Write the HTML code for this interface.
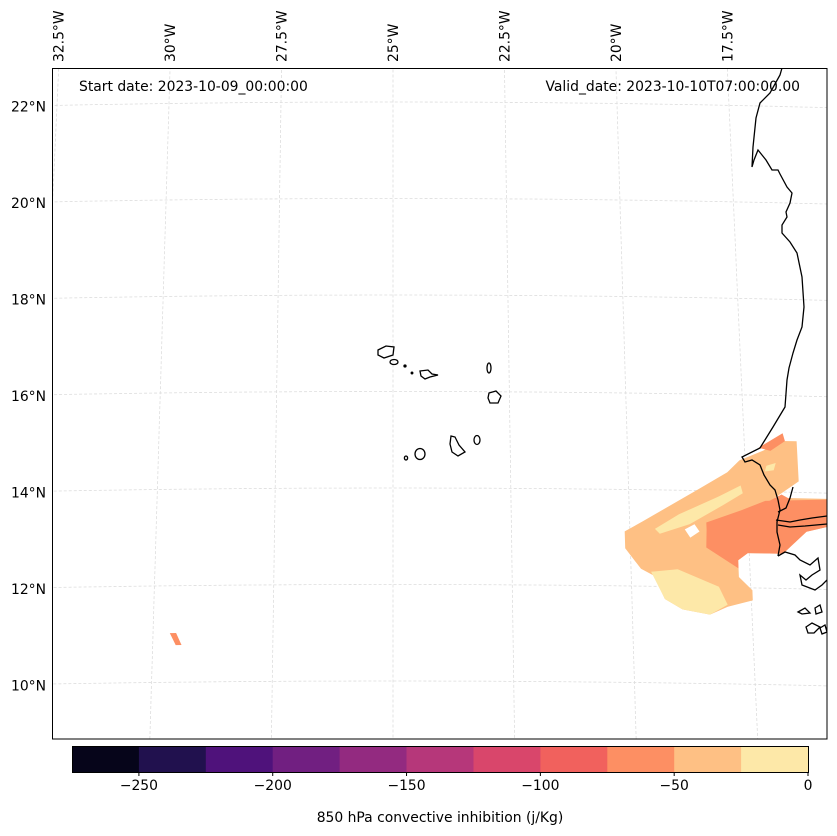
<!DOCTYPE html>
<html><head><meta charset="utf-8"><style>
html,body{margin:0;padding:0;background:#fff;}
svg{display:block;font-family:"DejaVu Sans","Liberation Sans",sans-serif;}
</style></head><body>
<svg id="chart" width="837" height="836" viewBox="0 0 837 836">
<defs><clipPath id="mapclip"><rect x="52" y="68" width="775" height="671"/></clipPath></defs>
<rect x="0" y="0" width="837" height="836" fill="#fff"/>
<g id="grid" clip-path="url(#mapclip)"></g>
<g id="fills" clip-path="url(#mapclip)"></g>
<g id="coast" clip-path="url(#mapclip)" fill="none" stroke="#000" stroke-width="1.3">
<path d="M782,68 L780,75 L770,93 L760,103 L756,118 L753,147 L752,167 L754,160 L758,150 L766,160 L772,170 L778,170 L780,174 L787,187 L792,193 L790,203 L786,212 L787,217 L782,225 L782,233 L790,242 L797,253 L802,277 L804,307 L802,327 L797,340 L793,353 L789,368 L787,380 L785,407 L773,427 L760,448 L742,457 L745,462 L752,460 L760,465 L764,475 L770,485 L775,490 L778,500 L780,510 L777,522 L777,532 L780,545 L778,556"/>
<path d="M778,512 L786,508 L790,498 L793,487 M776,520 L790,522 L800,520 L812,518 L827,516"/>
<path d="M778,525 L790,527 L805,526 L827,524"/>
<path d="M778,556 L785,552 L795,555 L800,560 L810,565 L818,558 L820,570 L812,575 L806,580 L800,575 L802,585 L815,590 L822,585 L827,580"/>
<path d="M798,612 L805,608 L810,613 L802,614 Z M815,608 L820,605 L822,612 L816,614 Z M806,627 L812,623 L820,627 L814,633 L808,633 Z M820,628 L825,625 L827,632 L822,634 Z"/>
<g>
<path d="M378,350 L386,346 L394,347 L393,355 L384,358 L378,355 Z"/>
<ellipse cx="394" cy="362" rx="4" ry="2.5"/>
<circle cx="405" cy="366" r="1" fill="#000"/>
<circle cx="412" cy="373" r="0.8" fill="#000"/>
<path d="M420,371 L428,370 L432,374 L438,375 L430,377 L425,379 L421,376 Z"/>
<ellipse cx="489" cy="368" rx="2" ry="5"/>
<path d="M489,393 L496,391 L501,396 L498,403 L490,403 L488,398 Z"/>
<ellipse cx="477" cy="440" rx="3" ry="4.5"/>
<path d="M451,436 L455,437 L459,445 L465,452 L458,456 L452,452 L450,444 Z"/>
<ellipse cx="420" cy="454" rx="5" ry="5.5"/>
<ellipse cx="406" cy="458" rx="1.6" ry="2"/>
</g>
</g>
<rect x="52.5" y="68.5" width="774.5" height="670.5" fill="none" stroke="#000" stroke-width="1"/>
<g id="labels" font-size="13.9" fill="#000"></g>
<text x="79" y="91" font-size="13.9">Start date: 2023-10-09_00:00:00</text>
<text x="800" y="91" font-size="13.9" text-anchor="end">Valid_date: 2023-10-10T07:00:00.00</text>
<g id="cbar"></g>
<text x="440" y="822" font-size="13.9" text-anchor="middle">850 hPa convective inhibition (j/Kg)</text>
</svg>
<script>
const levels=[-275,-250,-225,-200,-175,-150,-125,-100,-75,-50,-25,0];
const levelColors=["#06051a","#21114e","#4f127b","#711f81","#932a80","#b6377a","#d9466b","#f1615d","#fd8f63","#fec084","#fde8a8"];
const cbarTicks=[-250,-200,-150,-100,-50,0];
const latTicks=[10,12,14,16,18,20,22];
const lonTicks=[-32.5,-30,-27.5,-25,-22.5,-20,-17.5];
// contour polygons: [lon,lat] vertices, level = colour bin value
const contourLevels=[-37,-62,-12,-12,-12,-62,-62,-62];
const contourPolys=[
[[-20.11,13.13],[-19.73,13.34],[-18.53,14.02],[-17.89,14.39],[-17.62,14.64],[-17.11,14.85],[-16.69,15.06],[-16.38,15.06],[-16.38,14.23],[-16.90,13.88],[-15.4,13.88],[-15.4,13.40],[-16.27,13.19],[-16.79,12.72],[-17.53,12.72],[-17.74,12.57],[-17.74,12.22],[-17.47,11.95],[-17.47,11.74],[-18.00,11.60],[-18.38,11.43],[-18.95,11.53],[-19.31,11.74],[-19.52,12.22],[-19.79,12.36],[-20.11,12.78]],
[[-18.38,13.34],[-17.62,13.61],[-17.11,13.81],[-15.4,13.88],[-15.4,13.40],[-16.27,13.19],[-16.79,12.72],[-17.53,12.72],[-17.74,12.57],[-17.74,12.40],[-18.40,12.82],[-18.38,13.19]],
[[-19.47,13.19],[-18.95,13.50],[-18.10,13.88],[-17.62,14.12],[-17.58,13.96],[-18.00,13.71],[-18.73,13.30],[-19.37,13.09]],
[[-19.58,12.30],[-19.02,12.36],[-18.17,12.01],[-18.00,11.64],[-18.38,11.43],[-18.95,11.53],[-19.31,11.74]],
[[-17.05,14.54],[-16.85,14.60],[-16.90,14.45],[-17.09,14.42]],
[[-17.20,14.91],[-16.67,15.22],[-16.63,15.06],[-16.95,14.85]],
[[-29.65,11.02],[-29.52,11.02],[-29.40,10.77],[-29.52,10.77]],
[[-17.14,13.75],[-16.76,13.95],[-16.57,13.85],[-16.95,13.7]]
];
const holePoly=[[-18.84,13.19],[-18.63,13.30],[-18.53,13.15],[-18.73,13.02]];

const NS="http://www.w3.org/2000/svg";
function projX(lon,lat){return 393+(lon+25)*44.8*(1+(22-lat)*0.0065);}
function projY(lon,lat){const dx=(lon+25)/10;return 105+(22-lat)*48.25+(dx*dx)*6-3;}
function colorFor(v){for(let i=0;i<levels.length-1;i++){if(v>=levels[i]&&v<levels[i+1])return levelColors[i];}return levelColors[levelColors.length-1];}
function mk(tag,parent){const e=document.createElementNS(NS,tag);parent.appendChild(e);return e;}
function pts(poly){return poly.map(q=>projX(q[0],q[1]).toFixed(1)+","+projY(q[0],q[1]).toFixed(1)).join(" ");}

const grid=document.getElementById('grid');
latTicks.forEach(lat=>{
  let d="";for(let lon=-34;lon<=-14;lon+=0.5){d+=(d?"L":"M")+projX(lon,lat).toFixed(1)+","+projY(lon,lat).toFixed(1);}
  const p=mk('path',grid);
  
  
  p.setAttribute('d',d);p.setAttribute('fill','none');p.setAttribute('stroke','#ddd');p.setAttribute('stroke-width','0.8');p.setAttribute('stroke-dasharray','3,2');
});
lonTicks.forEach(lon=>{
  let d="";for(let lat=8;lat<=23.5;lat+=0.5){d+=(d?"L":"M")+projX(lon,lat).toFixed(1)+","+projY(lon,lat).toFixed(1);}
  const p=mk('path',grid);
  
  
  p.setAttribute('d',d);p.setAttribute('fill','none');p.setAttribute('stroke','#ddd');p.setAttribute('stroke-width','0.8');p.setAttribute('stroke-dasharray','3,2');
});
const fills=document.getElementById('fills');
contourPolys.forEach((poly,i)=>{
  const p=mk('polygon',fills);
  
  
  p.setAttribute('points',pts(poly));
  p.setAttribute('fill',colorFor(contourLevels[i]));
});
const hole=mk('polygon',fills);


hole.setAttribute('points',pts(holePoly));
hole.setAttribute('fill','#fff');

const labels=document.getElementById('labels');
latTicks.forEach(lat=>{
  const t=mk('text',labels);
  
  
  t.setAttribute('x',46);t.setAttribute('y',(projY(-33.5,lat)+5).toFixed(1));t.setAttribute('text-anchor','end');
  t.textContent=lat+"°N";
});
lonTicks.forEach(lon=>{
  const x=projX(lon,22.8)+5,y=62;
  const t=mk('text',labels);
  
  
  t.setAttribute('transform','translate('+x.toFixed(1)+','+y+') rotate(-90)');
  t.textContent=Math.abs(lon)+"°W";
});
const cb=document.getElementById('cbar');
const cx0=72,cx1=808,cy=746,ch=26;
function cbX(v){return cx0+(v-levels[0])/(levels[levels.length-1]-levels[0])*(cx1-cx0);}
levelColors.forEach((c,i)=>{
  const r=mk('rect',cb);
  
  
  r.setAttribute('x',cbX(levels[i]).toFixed(1));r.setAttribute('y',cy);
  r.setAttribute('width',(cbX(levels[i+1])-cbX(levels[i])+0.5).toFixed(1));r.setAttribute('height',ch);r.setAttribute('fill',c);
});
const fr=mk('rect',cb);


fr.setAttribute('x',cx0+0.5);fr.setAttribute('y',cy+0.5);fr.setAttribute('width',cx1-cx0);fr.setAttribute('height',ch);fr.setAttribute('fill','none');fr.setAttribute('stroke','#000');
cbarTicks.forEach(v=>{
  const x=cbX(v);
  const l=mk('line',cb);
  
  
  l.setAttribute('x1',x);l.setAttribute('x2',x);l.setAttribute('y1',cy+ch);l.setAttribute('y2',cy+ch+4);l.setAttribute('stroke','#000');
  const t=mk('text',cb);
  
  
  t.setAttribute('x',x);t.setAttribute('y',cy+ch+18);t.setAttribute('text-anchor','middle');t.setAttribute('font-size','13.9');
  t.textContent=v<0?"\u2212"+Math.abs(v):String(v);
});
</script>
</body></html>
